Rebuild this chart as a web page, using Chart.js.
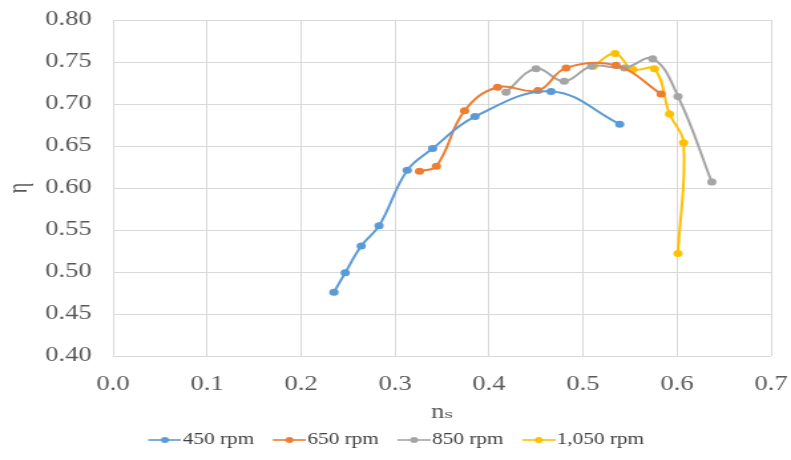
<!DOCTYPE html>
<html>
<head>
<meta charset="utf-8">
<script src="https://cdn.jsdelivr.net/npm/chart.js@4/dist/chart.umd.min.js"></script>
<style>
html,body{margin:0;padding:0;background:#fff;overflow:hidden;}
#wrap{width:791px;height:460px;position:relative;}
#c{width:791px !important;height:460px !important;display:block;}
</style>
</head>
<body>
<div id="wrap"><canvas id="c" width="595" height="460"></canvas></div>
<script>
const seriesNames = ["450 rpm", "650 rpm", "850 rpm", "1,050 rpm"];
const seriesColors = ["#5B9BD5", "#ED7D31", "#A5A5A5", "#FFC000"];

const ns450  = [0.235, 0.247, 0.264, 0.283, 0.313, 0.340, 0.385, 0.466, 0.539];
const eta450 = [0.476, 0.499, 0.531, 0.555, 0.621, 0.647, 0.685, 0.715, 0.676];

const ns650  = [0.326, 0.344, 0.374, 0.409, 0.452, 0.482, 0.535, 0.583];
const eta650 = [0.620, 0.626, 0.692, 0.720, 0.716, 0.743, 0.746, 0.712];

const ns850  = [0.418, 0.450, 0.480, 0.509, 0.544, 0.574, 0.601, 0.637];
const eta850 = [0.714, 0.742, 0.727, 0.745, 0.743, 0.754, 0.709, 0.607];

const ns1050  = [0.511, 0.534, 0.553, 0.576, 0.592, 0.607, 0.601];
const eta1050 = [0.745, 0.760, 0.741, 0.742, 0.688, 0.654, 0.522];

const xTicks = [0.0, 0.1, 0.2, 0.3, 0.4, 0.5, 0.6, 0.7];
const yTicks = [0.40, 0.45, 0.50, 0.55, 0.60, 0.65, 0.70, 0.75, 0.80];

function pts(xs, ys){ return xs.map((x,i)=>({x:x, y:ys[i]})); }

const allX = [ns450, ns650, ns850, ns1050];
const allY = [eta450, eta650, eta850, eta1050];

// legend icon: blank left part + 25px line with a dot
function legendIcon(color){
  const cv = document.createElement('canvas');
  cv.width = 39; cv.height = 10;
  const g = cv.getContext('2d');
  g.strokeStyle = color; g.lineWidth = 1.6;
  g.beginPath(); g.moveTo(14,5); g.lineTo(39,5); g.stroke();
  g.fillStyle = color;
  g.beginPath(); g.arc(26.5,5,3,0,Math.PI*2); g.fill();
  return cv;
}

const datasets = seriesNames.map((name,i)=>({
  label: name,
  data: pts(allX[i], allY[i]),
  borderColor: seriesColors[i],
  backgroundColor: seriesColors[i],
  borderWidth: 2,
  pointRadius: 3.5,
  pointHoverRadius: 3.5,
  pointBorderWidth: 0,
  showLine: true,
  tension: 0.4
}));

const serif = "'Liberation Serif', 'DejaVu Serif', serif";

function zeroPad(s){ s.paddingLeft = 0; s.paddingRight = 0; s.paddingTop = 0; s.paddingBottom = 0; }

const shiftLegend = {
  id: 'shiftLegend',
  afterLayout(chart){
    const lg = chart.legend;
    if (lg) { lg.left += 4; lg.right += 4; }
  }
};

new Chart(document.getElementById('c'), {
  type: 'scatter',
  data: { datasets: datasets },
  plugins: [shiftLegend],
  options: {
    responsive: false,
    animation: false,
    devicePixelRatio: 1,
    layout: { autoPadding: false, padding: { left: 1, right: 15, top: 20, bottom: 2 } },
    plugins: {
      legend: {
        position: 'bottom',
        labels: {
          font: { family: serif, size: 16 },
          color: '#404040',
          boxWidth: 25,
          boxHeight: 10,
          pointStyleWidth: 25,
          padding: 7,
          usePointStyle: true,
          generateLabels: (chart) => chart.data.datasets.map((ds,i)=>({
            text: ds.label,
            fillStyle: ds.borderColor,
            strokeStyle: ds.borderColor,
            pointStyle: legendIcon(ds.borderColor),
            datasetIndex: i,
            hidden: false,
            lineWidth: 0,
            fontColor: '#404040'
          }))
        }
      },
      tooltip: { enabled: false }
    },
    scales: {
      x: {
        type: 'linear',
        min: 0, max: 0.7,
        afterBuildTicks: (s)=>{ s.ticks = xTicks.map(v=>({value:v})); },
        afterFit: (s)=>{ s.height = 69; zeroPad(s); },
        ticks: {
          callback: (v)=>Number(v).toFixed(1),
          font: { family: serif, size: 20 },
          color: '#595959',
          padding: 17,
          maxRotation: 0
        },
        grid: { color: '#D9D9D9', lineWidth: 1, drawTicks: false },
        border: { display: false },
        title: {
          display: true,
          text: 'nₛ',
          font: { family: serif, size: 20 },
          color: '#595959',
          padding: { top: 0, bottom: 0 }
        }
      },
      y: {
        type: 'linear',
        min: 0.40, max: 0.80,
        afterBuildTicks: (s)=>{ s.ticks = yTicks.map(v=>({value:v})); },
        afterFit: (s)=>{ s.width = 84; zeroPad(s); },
        ticks: {
          callback: (v)=>Number(v).toFixed(2),
          font: { family: serif, size: 20 },
          color: '#595959',
          padding: 16
        },
        grid: { color: '#D9D9D9', lineWidth: 1, drawTicks: false },
        border: { display: false },
        title: {
          display: true,
          text: 'η',
          font: { family: serif, size: 20 },
          color: '#595959',
          padding: { top: 2, bottom: 7 }
        }
      }
    }
  }
});
</script>
</body>
</html>
